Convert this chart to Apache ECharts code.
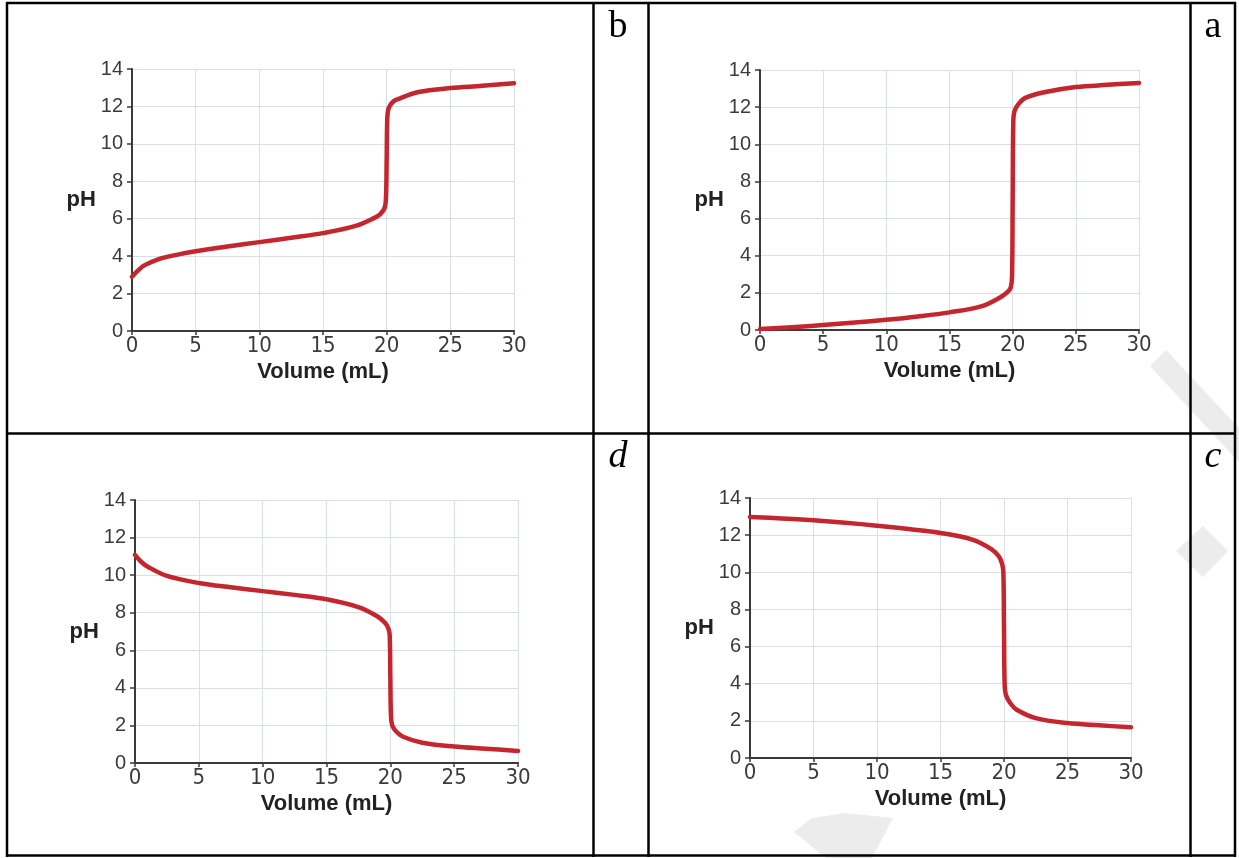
<!DOCTYPE html>
<html>
<head>
<meta charset="utf-8">
<script src="https://cdn.jsdelivr.net/npm/echarts@6/dist/echarts.min.js"></script>
<style>
html, body { margin: 0; padding: 0; background: #fff; }
#chart { width: 1239px; height: 858px; }
</style>
</head>
<body>
<div id="chart"></div>
<script>
// tick values shared by all four panels
const volumeTicks = [0, 5, 10, 15, 20, 25, 30];
const phTicks = [0, 2, 4, 6, 8, 10, 12, 14];

// b: weak acid + strong base
const volB = [0, 0.5, 1, 2, 3, 4, 5, 7.5, 10, 12.5, 15, 17.5, 19, 19.5, 19.85, 19.95, 20, 20.05, 20.15, 20.5, 21, 22.5, 25, 27.5, 30];
const phB = [2.9, 3.25, 3.52, 3.82, 4.0, 4.14, 4.26, 4.52, 4.75, 4.98, 5.23, 5.6, 6.03, 6.25, 6.6, 7.2, 9.2, 11.4, 11.9, 12.25, 12.42, 12.77, 12.98, 13.1, 13.24];

// a: strong acid + strong base
const volA = [0, 2.5, 5, 7.5, 10, 12.5, 15, 17.5, 19, 19.6, 19.85, 19.95, 20, 20.05, 20.15, 20.5, 21, 22.5, 25, 27.5, 30];
const phA = [0.05, 0.15, 0.27, 0.4, 0.55, 0.73, 0.95, 1.27, 1.75, 2.05, 2.3, 2.9, 7, 11.2, 11.8, 12.2, 12.5, 12.8, 13.08, 13.2, 13.3];

// d: weak base + strong acid
const volD = [0, 0.5, 1, 2.5, 5, 7.5, 10, 12.5, 15, 17.5, 19, 19.6, 19.85, 19.95, 20, 20.05, 20.15, 20.5, 21, 22.5, 25, 27.5, 30];
const phD = [11.08, 10.7, 10.45, 9.96, 9.58, 9.35, 9.15, 8.95, 8.72, 8.3, 7.8, 7.45, 7.15, 6.8, 4.6, 2.5, 2.0, 1.65, 1.4, 1.08, 0.88, 0.76, 0.64];

// c: strong base + strong acid
const volC = [0, 2.5, 5, 7.5, 10, 12.5, 15, 17.5, 19, 19.6, 19.85, 19.95, 20, 20.05, 20.15, 20.5, 21, 22.5, 25, 27.5, 30];
const phC = [12.98, 12.9, 12.8, 12.67, 12.51, 12.33, 12.12, 11.76, 11.25, 10.85, 10.45, 10.0, 7, 4.0, 3.4, 2.95, 2.6, 2.15, 1.88, 1.76, 1.65];

const panelLabels = ['b', 'a', 'd', 'c'];

let panels = [
    {grid: {left: 132, top: 69, width: 382, height: 262}, vol: volB, ph: phB},
    {grid: {left: 760, top: 70, width: 379, height: 260}, vol: volA, ph: phA},
    {grid: {left: 135, top: 500, width: 383, height: 263}, vol: volD, ph: phD},
    {grid: {left: 750, top: 498, width: 381, height: 260}, vol: volC, ph: phC}
];

const red = '#c4262e';
const axisColor = '#3a3a3a';
const gridColor = '#d8dfec';
const narrowFont = '"Liberation Sans Narrow", "DejaVu Sans Condensed", "Liberation Sans", sans-serif';

let chart = echarts.init(document.getElementById('chart'), null, {renderer: 'canvas'});

let grids = [], xAxes = [], yAxes = [], series = [];
panels.forEach(function (p, i) {
    grids.push(Object.assign({containLabel: false}, p.grid));
    xAxes.push({
        type: 'value',
        gridIndex: i,
        min: volumeTicks[0],
        max: volumeTicks[volumeTicks.length - 1],
        interval: volumeTicks[1] - volumeTicks[0],
        name: 'Volume (mL)',
        nameLocation: 'middle',
        nameGap: 30,
        nameTextStyle: {fontFamily: 'Liberation Sans', fontWeight: 'bold', fontSize: 22, color: '#222'},
        axisLine: {show: true, onZero: false, lineStyle: {color: axisColor, width: 2}},
        axisTick: {show: true, length: 4, lineStyle: {color: axisColor, width: 1.5}},
        axisLabel: {margin: 4, fontFamily: narrowFont, fontSize: 22, color: '#3b3b3b'},
        splitLine: {show: true, lineStyle: {color: gridColor, width: 1}}
    });
    yAxes.push({
        type: 'value',
        gridIndex: i,
        min: phTicks[0],
        max: phTicks[phTicks.length - 1],
        interval: phTicks[1] - phTicks[0],
        name: 'pH',
        nameLocation: 'middle',
        nameRotate: 0,
        nameGap: 34,
        nameTextStyle: {fontFamily: 'Liberation Sans', fontWeight: 'bold', fontSize: 22, color: '#222'},
        axisLine: {show: true, onZero: false, lineStyle: {color: axisColor, width: 2}},
        axisTick: {show: true, length: 5, lineStyle: {color: axisColor, width: 1.5}},
        axisLabel: {margin: 9, fontFamily: 'Liberation Sans', fontSize: 20, color: '#3b3b3b'},
        splitLine: {show: true, lineStyle: {color: gridColor, width: 1}}
    });
    series.push({
        type: 'line',
        xAxisIndex: i,
        yAxisIndex: i,
        data: p.vol.map(function (v, k) { return [v, p.ph[k]]; }),
        showSymbol: false,
        smooth: 0.35,
        lineStyle: {color: red, width: 4.5, join: 'round', cap: 'round'},
        z: 3
    });
});

// table borders
function hLine(y, x1, x2) {
    return {type: 'line', z: 10, shape: {x1: x1, y1: y, x2: x2, y2: y}, style: {stroke: '#000', lineWidth: 2.5}};
}
function vLine(x, y1, y2) {
    return {type: 'line', z: 10, shape: {x1: x, y1: y1, x2: x, y2: y2}, style: {stroke: '#000', lineWidth: 2.5}};
}
let graphic = [
    {type: 'polygon', z: 1, shape: {points: [[1150, 366], [1166, 350], [1239, 428], [1239, 462]]}, style: {fill: '#ececec'}},
    {type: 'polygon', z: 1, shape: {points: [[1203, 526], [1228, 551], [1203, 577], [1176, 551]]}, style: {fill: '#ececec'}},
    {type: 'polygon', z: 1, shape: {points: [[794, 832], [812, 818], [845, 813], [893, 818], [872, 858], [826, 858]]}, style: {fill: '#ececec'}},
    hLine(3, 6, 1236), hLine(433.5, 6, 1236), hLine(855.5, 6, 1236),
    vLine(7, 2, 857), vLine(593.5, 2, 857), vLine(648.5, 2, 857),
    vLine(1190.5, 2, 857), vLine(1235, 2, 857)
];
const labelPos = [[618, 27], [1213, 27], [618, 457], [1213, 457]];
panelLabels.forEach(function (t, i) {
    graphic.push({
        type: 'text', z: 10, x: labelPos[i][0], y: labelPos[i][1],
        style: {
            text: t, fill: '#000', align: 'center', verticalAlign: 'middle',
            fontFamily: 'Liberation Serif', fontSize: 38,
            fontStyle: i >= 2 ? 'italic' : 'normal'
        }
    });
});

chart.setOption({
    animation: false,
    backgroundColor: '#fff',
    grid: grids,
    xAxis: xAxes,
    yAxis: yAxes,
    series: series,
    graphic: graphic
});
</script>
</body>
</html>
